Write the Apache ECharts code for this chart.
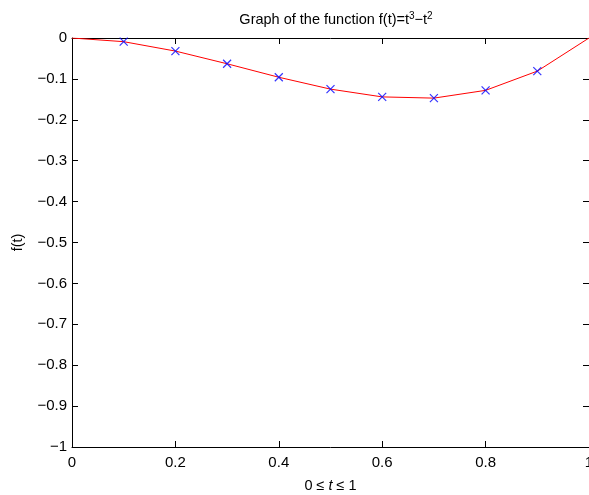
<!DOCTYPE html>
<html>
<head>
<meta charset="utf-8">
<script src="https://cdn.jsdelivr.net/npm/echarts@6/dist/echarts.min.js"></script>
<style>
html, body { margin: 0; padding: 0; background: #fff; }
#main { width: 589px; height: 495px; }
</style>
</head>
<body>
<div id="main"></div>
<script>
// values
var tValues = [0, 0.1, 0.2, 0.3, 0.4, 0.5, 0.6, 0.7, 0.8, 0.9, 1];
var fValues = [0, -0.009, -0.032, -0.063, -0.096, -0.125, -0.144, -0.147, -0.128, -0.081, 0];
var markT = [0.1, 0.2, 0.3, 0.4, 0.5, 0.6, 0.7, 0.8, 0.9];
var markF = [-0.009, -0.032, -0.063, -0.096, -0.125, -0.144, -0.147, -0.128, -0.081];

var font = 'Liberation Sans, Arial, Helvetica, sans-serif';

function pairs(xs, ys) {
	var out = [];
	for (var i = 0; i < xs.length; i++) out.push([xs[i], ys[i]]);
	return out;
}
function minus(v) {
	return String(Math.round(v * 10) / 10).replace('-', '\u2212');
}

function axisLine() {
	return { show: true, onZero: false, lineStyle: { color: '#000', width: 1 } };
}
function tickIn() {
	return { show: true, inside: true, length: 6, lineStyle: { color: '#000', width: 1 } };
}

option = {
	animation: false,
	title: {
		text: 'Graph of the function f(t)=t{sup|3}\u2212t{sup|2}',
		left: 331,
		top: 6,
		textAlign: 'center',
		textStyle: {
			fontFamily: font, fontSize: 14.5, fontWeight: 'normal', color: '#000',
			rich: { sup: { fontSize: 10, verticalAlign: 'top', padding: [0, 0, 8, 0], fontFamily: font, color: '#000' } }
		}
	},
	grid: { left: 72, right: 0, top: 38, bottom: 48, outerBoundsMode: 'none', containLabel: false },
	xAxis: [{
		type: 'value', min: 0, max: 1, interval: 0.2,
		axisLine: axisLine(), axisTick: tickIn(), splitLine: { show: false },
		axisLabel: { color: '#000', fontFamily: font, fontSize: 15, margin: 8, formatter: minus },
		name: '{n|0 \u2264 }{i|t}{n| \u2264 1}', nameLocation: 'middle', nameGap: 31,
		nameTextStyle: {
			rich: {
				n: { fontFamily: font, fontSize: 14.5, color: '#000' },
				i: { fontFamily: font, fontSize: 14.5, color: '#000', fontStyle: 'italic' }
			}
		}
	}, {
		type: 'value', min: 0, max: 1, interval: 0.2, position: 'top',
		axisLine: axisLine(), axisTick: tickIn(), axisLabel: { show: false }, splitLine: { show: false }
	}],
	yAxis: [{
		type: 'value', min: -1, max: 0, interval: 0.1,
		axisLine: axisLine(), axisTick: tickIn(), splitLine: { show: false },
		axisLabel: { color: '#000', fontFamily: font, fontSize: 15, margin: 5, formatter: minus },
		name: 'f(t)', nameLocation: 'middle', nameGap: 47,
		nameTextStyle: { fontFamily: font, fontSize: 14.5, color: '#000' }
	}, {
		type: 'value', min: -1, max: 0, interval: 0.1, position: 'right',
		axisLine: axisLine(), axisTick: tickIn(), axisLabel: { show: false }, splitLine: { show: false }
	}],
	series: [{
		type: 'line',
		data: pairs(tValues, fValues),
		showSymbol: false,
		lineStyle: { color: '#ff0000', width: 1 },
		z: 2
	}, {
		type: 'scatter',
		data: pairs(markT, markF),
		symbol: 'path://M0,0L10,10M10,0L0,10',
		symbolSize: 8,
		itemStyle: { color: 'none', borderColor: '#0000ff', borderWidth: 1.2 },
		z: 3
	}]
};

var myChart = echarts.init(document.getElementById('main'));
myChart.setOption(option, true);
</script>
</body>
</html>
